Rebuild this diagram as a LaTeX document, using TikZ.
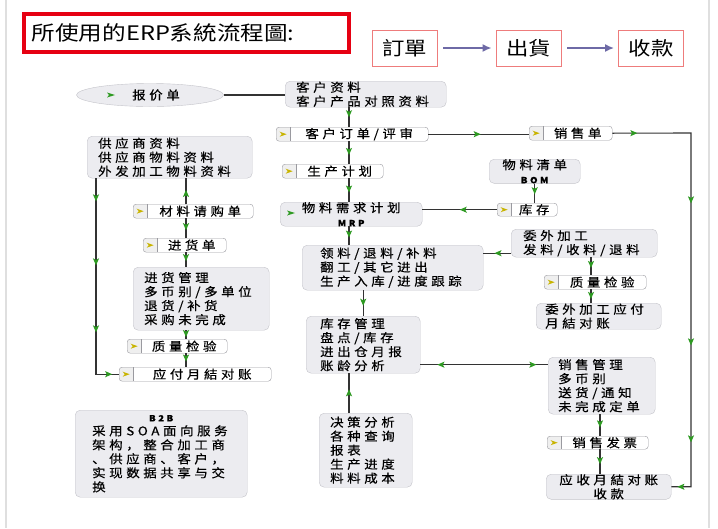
\documentclass[tikz,border=0pt]{standalone}
\usepackage{fontspec}
\usetikzlibrary{arrows.meta,shapes.geometric,decorations.markings}
\newfontfamily\cjk[FakeStretch=1.12,LetterSpace=30,FakeBold=0.4]{Noto Sans CJK SC}
\newfontfamily\tcjk[FakeStretch=1.18]{Noto Sans CJK TC}
\newcommand\diag{\cjk\fontsize{12}{14}\selectfont}
\definecolor{boxfill}{HTML}{ECECF0}
\definecolor{boxline}{HTML}{C4C4CA}
\definecolor{tagline}{HTML}{9A9AA0}
\definecolor{cellfill}{HTML}{EFEFEF}
\definecolor{linkc}{HTML}{333333}
\definecolor{arrowc}{HTML}{2E9A22}
\definecolor{markc}{HTML}{C8B400}
\definecolor{titlered}{HTML}{E60012}
\definecolor{steppink}{HTML}{EE7C7C}
\definecolor{flowc}{HTML}{6E6AA6}
\begin{document}
\begin{tikzpicture}[x=1pt, y=-1pt,
  box/.style={draw=boxline, fill=boxfill, rounded corners=5pt, anchor=north west,
    inner xsep=11pt, inner ysep=0pt, align=left, font=\diag},
  tag/.style={draw=tagline, fill=white, rounded corners=3pt, anchor=north west,
    inner xsep=0pt, inner ysep=0pt, minimum height=14pt, font=\diag,
    execute at begin node={\hskip14pt},
    path picture={
      \fill[cellfill, sharp corners] (path picture bounding box.north west) rectangle ([xshift=14pt]path picture bounding box.south west);
      \draw[tagline, sharp corners] ([xshift=14pt]path picture bounding box.north west) -- ([xshift=14pt]path picture bounding box.south west);
      \fill[markc, sharp corners] ([xshift=3.5pt,yshift=2.5pt]path picture bounding box.west) -- ++(7pt,-2.5pt) -- ++(-7pt,-2.5pt) -- ++(2pt,2.5pt) -- cycle;
    }},
  oval/.style={ellipse, draw=boxline, fill=boxfill, font=\diag, inner sep=0pt},
  link/.style={draw=linkc, line width=1.1pt},
  arrowat/.style={postaction={decorate, decoration={markings,
    mark=at position #1 with {\arrow{Stealth[length=7pt,width=6pt,inset=1.5pt,color=arrowc]}}}}},
  arrowat/.default=0.6,
  backat/.style={postaction={decorate, decoration={markings,
    mark=at position #1 with {\arrowreversed{Stealth[length=7pt,width=6pt,inset=1.5pt,color=arrowc]}}}}},
  gmark/.pic={\fill[arrowc] (-4pt,2.5pt) -- (4pt,0pt) -- (-4pt,-2.5pt) -- (-2pt,0pt) -- cycle;},
  stepbox/.style={draw=steppink, line width=0.8pt, fill=white, minimum width=65pt, minimum height=36pt,
    font=\tcjk\fontsize{19}{22}\selectfont},
  flow/.style={draw=flowc, line width=2.5pt, -{Latex[length=9pt,width=8pt]}, shorten <=6pt, shorten >=4pt},
]
\useasboundingbox (0,0) rectangle (718,528);
\fill[white] (0,0) rectangle (718,528);
\draw[gray!25, line width=2pt] (6,0) -- (6,528);
\draw[gray!25, line width=2pt] (709,0) -- (709,528);

% heading
\node[draw=titlered, line width=3.5pt, anchor=north west, minimum width=325pt, minimum height=38pt,
  text width=309pt, inner xsep=8pt, align=left, font=\tcjk\fontsize{20}{24}\selectfont] (title) at (22,12) {所使用的ERP系統流程圖:};
\node[stepbox] (dd) at (404.5,48) {訂單};
\node[stepbox] (ch) at (528.5,48) {出貨};
\node[stepbox] (sk) at (651,48) {收款};
\draw[flow] (dd) -- (ch);
\draw[flow] (ch) -- (sk);

% middle column
\node[oval, minimum width=147pt, minimum height=23pt] (bjd) at (150,95) {\hspace*{12pt}报价单};
\pic at (111,95) {gmark};
\node[box, text width=139pt, minimum height=26pt] (khzl) at (285,81) {客户资料\\客户产品对照资料};
\node[tag, minimum width=152pt] (khdd) at (276,127) {客户订单/评审};
\node[tag, minimum width=101pt] (scjh) at (282,164) {生产计划};
\node[box, text width=120pt, minimum height=24pt, align=center] (mrp) at (280,202) {物料需求计划\\{\bfseries\fontsize{8.5}{9}\selectfont MRP}};
\pic at (291,213) {gmark};
\node[box, inner xsep=18pt, text width=145pt, minimum height=45pt] (ll) at (302,245) {领料/退料/补料\\翻工/其它进出\\生产入库/进度跟踪};
\node[box, inner xsep=14pt, text width=86pt, minimum height=57pt] (kcgl) at (306,316) {库存管理\\盘点/库存\\进出仓月报\\账龄分析};
\node[box, text width=71pt, minimum height=74pt] (jc) at (319,413) {决策分析\\各种查询\\报表\\生产进度\\料料成本};

% right column
\node[tag, minimum width=83pt] (xsd) at (529,126) {销售单};
\node[box, text width=69pt, minimum height=24pt, align=center] (wlqd) at (489,159) {物料清单\\{\bfseries\fontsize{8.5}{9}\selectfont BOM}};
\node[tag, minimum width=60pt, minimum height=13pt] (kc) at (497,203) {库存};
\node[box, inner xsep=12pt, text width=122pt, minimum height=28pt] (wwjg) at (511,229) {委外加工\\发料/收料/退料};
\node[tag, minimum width=102pt] (zljy2) at (544,275) {质量检验};
\node[box, inner xsep=9pt, text width=107pt, minimum height=26pt] (wwyf) at (536,303) {委外加工应付\\月結对账};
\node[box, inner xsep=10pt, text width=87pt, minimum height=57pt] (xsgl) at (548,357) {销售管理\\多币别\\送货/通知\\未完成定单};
\node[tag, minimum width=101pt, minimum height=13pt] (xsfp) at (547,436) {销售发票};
\node[box, text width=103pt, minimum height=24pt, align=center] (ysyf) at (546,474) {应收月結对账\\收款};

% left column
\node[box, text width=143pt, minimum height=42pt] (gys) at (87,136) {供应商资料\\供应商物料资料\\外发加工物料资料};
\node[tag, minimum width=120pt] (clqg) at (133,204) {材料请购单};
\node[tag, minimum width=83pt] (jhd) at (143,238) {进货单};
\node[box, text width=114pt, minimum height=63pt] (jhgl) at (133,267) {进货管理\\多币别/多单位\\退货/补货\\采购未完成};
\node[tag, minimum width=100pt] (zljy1) at (127,339) {质量检验};
\node[tag, minimum width=152pt] (yfyj) at (119,367) {应付月結对账};
\node[box, inner xsep=17pt, text width=138pt, minimum height=87pt] (b2b) at (75,410)
  {\makebox[\linewidth]{\bfseries\fontsize{8.5}{9}\selectfont B2B}\\采用SOA面向服务\\架构，整合加工商\\、供应商、客户，\\实现数据共享与交\\换};

% connectors
\coordinate (cx) at (349,0);
\coordinate (lx) at (186,0);
\coordinate (rx) at (591,0);
\coordinate (sx) at (600,0);
\coordinate (ne) at (691,133);
\draw[link] (bjd.east) -- (bjd.east -| khzl.west);
\draw[link, arrowat=0.5] (khzl.south -| cx) -- (khdd.north -| cx);
\draw[link, arrowat] (khdd.south -| cx) -- (scjh.north -| cx);
\draw[link, arrowat] (scjh.south -| cx) -- (mrp.north -| cx);
\draw[link, arrowat] (mrp.south -| cx) -- (ll.north -| cx);
\draw[link, arrowat] (kcgl.north |- ll.south) -- (kcgl.north);
\draw[link, arrowat] (jc.north -| cx) -- (kcgl.south -| cx);
\draw[link, arrowat=0.52] (khdd.east) -- (khdd.east -| xsd.west);
\draw[link, arrowat=25pt, arrowat=149pt, arrowat=291pt, arrowat=388pt, arrowat=446pt] (xsd.east) -- (ne) |- (ysyf.east);
\draw[link, arrowat=0.55] (wlqd.south) -- (wlqd.south |- kc.north);
\draw[link, arrowat=0.5] (kc.west) -- (kc.west -| mrp.east);
\draw[link, arrowat] ([yshift=-10pt]wwjg.west) -- ([yshift=-10pt]wwjg.west -| ll.east);
\draw[link, arrowat] (wwjg.south -| rx) -- (zljy2.north -| rx);
\draw[link, arrowat=0.7] (zljy2.south -| rx) -- (wwyf.north -| rx);
\draw[link, backat=17pt, arrowat=116pt] ([yshift=-20pt]kcgl.east) -- ([yshift=-20pt]kcgl.east -| xsgl.west);
\draw[link, arrowat] (xsgl.south -| sx) -- (xsfp.north -| sx);
\draw[link, arrowat] (xsfp.south -| sx) -- (ysyf.north -| sx);
\draw[link, arrowat=23pt, arrowat=87pt, arrowat=154pt, arrowat=212pt] ([xshift=9pt]gys.south west) |- (yfyj.west);
\draw[link, arrowat=0.55] (clqg.north -| lx) -- (gys.south -| lx);
\draw[link, arrowat] (clqg.south -| lx) -- (jhd.north -| lx);
\draw[link, arrowat] (jhd.south -| lx) -- (jhgl.north -| lx);
\draw[link, arrowat=0.78] (jhgl.south -| lx) -- (zljy1.north -| lx);
\draw[link, arrowat] (zljy1.south -| lx) -- (yfyj.north -| lx);
\end{tikzpicture}
\end{document}
